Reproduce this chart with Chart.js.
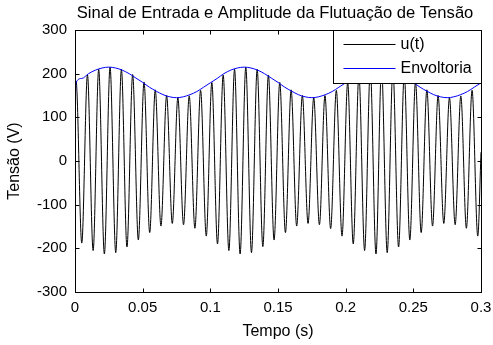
<!DOCTYPE html>
<html>
<head>
<meta charset="utf-8">
<script src="https://cdn.jsdelivr.net/npm/chart.js@4.4.0/dist/chart.umd.min.js"></script>
<style>
html, body { margin: 0; padding: 0; background: #fff; }
#wrap { width: 493px; height: 345px; }
</style>
</head>
<body>
<div id="wrap"><canvas id="chartSinal" width="493" height="345"></canvas></div>
<script>
var titulo = 'Sinal de Entrada e Amplitude da Flutuação de Tensão';
var nomesSeries = ['u(t)', 'Envoltoria'];
var rotuloX = 'Tempo (s)';
var rotuloY = 'Tensão (V)';
var ticksTempo = [0, 0.05, 0.1, 0.15, 0.2, 0.25, 0.3];
var ticksTensao = [-300, -200, -100, 0, 100, 200, 300];

// extremos do sinal u(t) (pico, vale, pico, vale...)
var tempoU = [0,
	0.0008, 0.0050, 0.0092, 0.0134, 0.0175, 0.0217, 0.0259, 0.0301, 0.0343, 0.0384, 0.0426, 0.0468,
	0.0510, 0.0552, 0.0593, 0.0635, 0.0677, 0.0719, 0.0760, 0.0802, 0.0844, 0.0886, 0.0928, 0.0970,
	0.1011, 0.1053, 0.1095, 0.1137, 0.1179, 0.1220, 0.1262, 0.1304, 0.1346, 0.1388, 0.1429, 0.1471,
	0.1513, 0.1555, 0.1597, 0.1638, 0.1680, 0.1722, 0.1764, 0.1806, 0.1847, 0.1889, 0.1931, 0.1973,
	0.2015, 0.2056, 0.2098, 0.2140, 0.2182, 0.2224, 0.2265, 0.2307, 0.2349, 0.2391, 0.2433, 0.2474,
	0.2516, 0.2558, 0.2600, 0.2642, 0.2683, 0.2725, 0.2767, 0.2809, 0.2851, 0.2892, 0.2934, 0.2976,
	0.3];
var valoresU = [170,
	183, -188, 198, -205, 210, -213, 215, -210, 210, -197, 198, -181,
	181, -164, 163, -149, 150, -143, 145, -146, 149, -154, 162, -172,
	180, -190, 197, -205, 210, -213, 215, -210, 210, -196, 197, -181,
	180, -164, 163, -149, 150, -143, 145, -146, 150, -155, 162, -172,
	180, -190, 197, -205, 209, -213, 215, -210, 210, -197, 198, -181,
	181, -164, 163, -149, 150, -143, 145, -146, 149, -154, 162, -172,
	20];

// envoltoria
var tempoEnv = [0, 0.0006, 0.005, 0.01, 0.015, 0.02, 0.025, 0.03, 0.035, 0.04, 0.045, 0.05,
	0.055, 0.06, 0.065, 0.07, 0.075, 0.08, 0.085, 0.09, 0.095, 0.1,
	0.105, 0.11, 0.115, 0.12, 0.125, 0.13, 0.135, 0.14, 0.145, 0.15,
	0.155, 0.16, 0.165, 0.17, 0.175, 0.18, 0.185, 0.19, 0.195, 0.2,
	0.205, 0.21, 0.215, 0.22, 0.225, 0.23, 0.235, 0.24, 0.245, 0.25,
	0.255, 0.26, 0.265, 0.27, 0.275, 0.28, 0.285, 0.29, 0.295, 0.3];
var valoresEnv = [0, 178, 189, 200, 208, 213, 215, 213, 208, 200, 190, 180,
	169, 160, 152, 147, 145, 147, 152, 159, 169, 179,
	189, 200, 208, 213, 215, 213, 208, 200, 190, 180,
	169, 160, 152, 147, 145, 147, 152, 159, 169, 179,
	189, 200, 208, 213, 215, 213, 208, 200, 190, 180,
	169, 160, 152, 147, 145, 147, 152, 159, 169, 179];

var fonte = '"Liberation Sans", Arial, Helvetica, sans-serif';

function pontos(xs, ys) {
	return xs.map(function (x, i) { return { x: x, y: ys[i] }; });
}

var molduraMatlab = {
	id: 'molduraMatlab',
	afterDraw: function (chart) {
		var ctx = chart.ctx;
		var ca = chart.chartArea;
		var sx = chart.scales.x;
		var sy = chart.scales.y;
		var l = Math.round(ca.left) + 0.5, r = Math.round(ca.right) + 0.5;
		var t = Math.round(ca.top) + 0.5, b = Math.round(ca.bottom) + 0.5;
		ctx.save();
		ctx.strokeStyle = '#000';
		ctx.lineWidth = 1;
		ctx.beginPath();
		ticksTempo.forEach(function (v) {
			var px = Math.round(sx.getPixelForValue(v)) + 0.5;
			ctx.moveTo(px, b); ctx.lineTo(px, b - 4);
			ctx.moveTo(px, t); ctx.lineTo(px, t + 4);
		});
		ticksTensao.forEach(function (v) {
			var py = Math.round(sy.getPixelForValue(v)) + 0.5;
			ctx.moveTo(l, py); ctx.lineTo(l + 4, py);
			ctx.moveTo(r, py); ctx.lineTo(r - 4, py);
		});
		ctx.stroke();

		// legenda
		var lx = Math.round(ca.right) - 148 + 0.5, ly = t;
		ctx.fillStyle = '#fff';
		ctx.fillRect(lx, ly, r - lx, 53);
		ctx.strokeRect(lx, ly, r - lx, 53);
		var cores = ['#000000', '#0000ff'];
		ctx.font = '16px ' + fonte;
		ctx.textBaseline = 'middle';
		ctx.textAlign = 'left';
		nomesSeries.forEach(function (nome, i) {
			var yy = Math.round(ly + 13 + i * 24) + 0.5;
			ctx.strokeStyle = cores[i];
			ctx.beginPath();
			ctx.moveTo(lx + 10, yy); ctx.lineTo(lx + 62, yy);
			ctx.stroke();
			ctx.fillStyle = '#000';
			ctx.fillText(nome, lx + 67, yy);
		});

		ctx.strokeStyle = '#000';
		ctx.strokeRect(l, t, r - l, b - t);

		ctx.fillStyle = '#000';
		ctx.textAlign = 'center';
		ctx.font = '16.6px ' + fonte;
		ctx.fillText(titulo, (ca.left + ca.right) / 2 - 3, 13);
		ctx.restore();
	}
};

new Chart(document.getElementById('chartSinal'), {
	type: 'line',
	data: {
		datasets: [
			{
				label: nomesSeries[1],
				data: pontos(tempoEnv, valoresEnv),
				borderColor: '#0000ff',
				borderWidth: 1,
				pointRadius: 0,
				cubicInterpolationMode: 'monotone',
				order: 0
			},
			{
				label: nomesSeries[0],
				data: pontos(tempoU, valoresU),
				borderColor: '#000000',
				borderWidth: 1,
				pointRadius: 0,
				cubicInterpolationMode: 'monotone',
				order: 1
			}
		]
	},
	options: {
		responsive: false,
		animation: false,
		devicePixelRatio: 1,
		layout: { padding: { left: 0, right: 12, top: 30, bottom: 0 } },
		plugins: {
			legend: { display: false },
			tooltip: { enabled: false },
			title: { display: false }
		},
		scales: {
			x: {
				type: 'linear',
				min: 0,
				max: 0.3,
				grid: { display: false, drawTicks: false },
				border: { display: false },
				afterBuildTicks: function (scale) {
					scale.ticks = ticksTempo.map(function (v) { return { value: v }; });
				},
				afterFit: function (scale) {
					scale.height = 53;
					scale.paddingLeft = 0;
					scale.paddingRight = 0;
				},
				ticks: {
					padding: 7,
					maxRotation: 0,
					color: '#000',
					font: { family: fonte, size: 15 },
					callback: function (v) { return String(Number(v.toFixed(2))); }
				},
				title: {
					display: true,
					text: rotuloX,
					color: '#000',
					font: { family: fonte, size: 16 },
					padding: { top: 0, bottom: 4 }
				}
			},
			y: {
				type: 'linear',
				min: -300,
				max: 300,
				grid: { display: false, drawTicks: false },
				border: { display: false },
				afterBuildTicks: function (scale) {
					scale.ticks = ticksTensao.map(function (v) { return { value: v }; });
				},
				afterFit: function (scale) {
					scale.width = 75;
					scale.paddingTop = 0;
					scale.paddingBottom = 0;
				},
				ticks: {
					padding: 8,
					color: '#000',
					font: { family: fonte, size: 15 }
				},
				title: {
					display: true,
					text: rotuloY,
					color: '#000',
					font: { family: fonte, size: 16 },
					padding: { top: 5, bottom: 0 }
				}
			}
		}
	},
	plugins: [molduraMatlab]
});
</script>
</body>
</html>
